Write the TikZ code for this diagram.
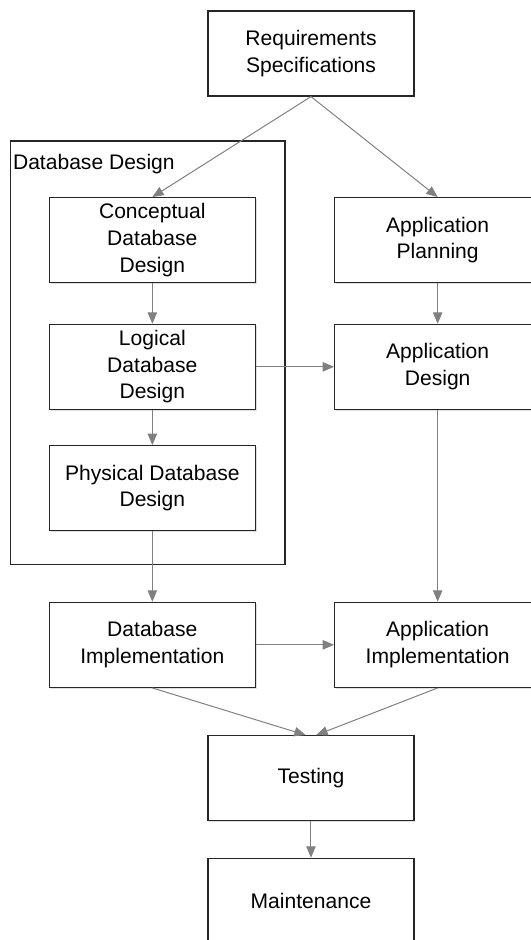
\documentclass[tikz,border=0pt]{standalone}
\usepackage{fontspec}
\setmainfont{Liberation Sans}
\usetikzlibrary{arrows.meta,fit,backgrounds,shadows}

\tikzstyle{stage} = [rectangle, minimum width=154.5pt, minimum height=63.75pt, align=center, draw=black!85, line width=0.9pt, fill=white, drop shadow={shadow xshift=0.9pt, shadow yshift=-0.9pt, opacity=0.25}]
\tikzstyle{group} = [rectangle, inner sep=0pt, draw=black!85, line width=0.9pt, fill=white, drop shadow={shadow xshift=0.9pt, shadow yshift=-0.9pt, opacity=0.25}]
\tikzstyle{flow} = [line width=0.75pt, draw=black!50, -{Triangle[length=8.5pt,width=7pt]}]

\begin{document}
\begin{tikzpicture}[node distance=93pt, font=\fontsize{15.8}{20}\selectfont]
      \useasboundingbox (-233.25pt,40.125pt) rectangle (165pt,-664.875pt);
      \node (req) [stage] {Requirements\\Specifications};
      \node (con) [stage, below of=req, xshift=-119pt, yshift=-47pt] {Conceptual\\Database\\Design};
      \node (apl) [stage, right of=con, xshift=121pt] {Application\\Planning};
      \node (log) [stage, below of=con, yshift=-2pt] {Logical\\Database\\Design};
      \node (ads) [stage, right of=log, xshift=121pt] {Application\\Design};
      \node (phy) [stage, below of=log, yshift=2pt] {Physical Database\\Design};
      \node (dbi) [stage, below of=phy, yshift=-24.5pt] {Database\\Implementation};
      \node (api) [stage, right of=dbi, xshift=121pt] {Application\\Implementation};
      \node (tst) [stage, below of=dbi, xshift=119pt, yshift=-7pt] {Testing};
      \node (mnt) [stage, below of=tst, yshift=1pt] {Maintenance};

      \begin{scope}[on background layer]
        \node (dbd) [group, fit={([xshift=-28.5pt,yshift=42pt]con.north west) ([xshift=21.75pt,yshift=-24.75pt]phy.south east)}] {};
      \end{scope}
      \node (dbdlabel) [anchor=north west, inner sep=2pt] at ([yshift=-7.75pt]dbd.north west) {Database Design};

      \draw [flow] (req.south) -- (con.north);
      \draw [flow] (req.south) -- (apl.north);
      \draw [flow] (con.south) -- (log.north);
      \draw [flow] (apl.south) -- (ads.north);
      \draw [flow] (log.east) -- (ads.west);
      \draw [flow] (log.south) -- (phy.north);
      \draw [flow] (phy.south) -- (dbi.north);
      \draw [flow] (ads.south) -- (api.north);
      \draw [flow] (dbi.east) -- (api.west);
      \draw [flow] (dbi.south) -- ([xshift=-4pt]tst.north);
      \draw [flow] (api.south) -- ([xshift=4pt]tst.north);
      \draw [flow] (tst.south) -- (mnt.north);
    \end{tikzpicture}
\end{document}
